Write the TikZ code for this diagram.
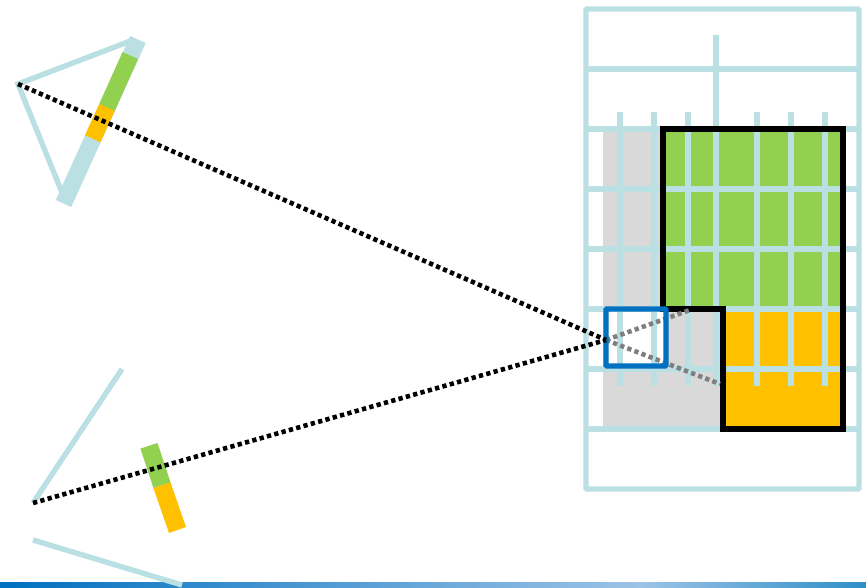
\documentclass[tikz,border=0pt]{standalone}
\usetikzlibrary{positioning}
\definecolor{gridBlue}{RGB}{187,224,227}
\definecolor{hitGreen}{RGB}{146,208,80}
\definecolor{hitOrange}{RGB}{255,192,0}
\definecolor{viewGray}{RGB}{217,217,217}
\definecolor{boxBlue}{RGB}{0,112,192}
\definecolor{barLight}{RGB}{157,195,230}
\definecolor{barEnd}{RGB}{46,143,200}
\definecolor{rayGray}{RGB}{127,127,127}

\begin{document}
\begin{tikzpicture}[
  x=1pt,
  y=-1pt,
  gridline/.style={
    draw=gridBlue,
    line width=5.4pt,
  },
  sensor/.style={
    line width=#1,
  },
  ray/.style={
    line width=4.6pt,
    dash pattern=on 4.3pt off 3.3pt,
  },
]
  \useasboundingbox (0,0) rectangle (866,588);

  % bar along the bottom
  \shade[left color=boxBlue, right color=barLight, draw=none]
    (0,582.5) rectangle (640,588);
  \shade[left color=barLight, right color=barEnd, draw=none]
    (640,582.5) rectangle (866,588);

  % cameras
  \coordinate (camA) at (18,84);
  \coordinate (camB) at (33,503);
  \coordinate (pix) at (606,340);

  \draw[gridline] (63,195) -- (camA) -- (133,40);
  \draw[gridline] (122,369) -- (camB);
  \draw[gridline] (33,540) -- (182,585);

  \draw[gridBlue, sensor=17pt] (138,39.5) -- (63.5,203.5);
  \draw[hitGreen, sensor=17pt] (130.3,55.5) -- (107,107.5);
  \draw[hitOrange, sensor=17pt] (107,107.5) -- (92.7,138.7);

  \draw[hitGreen, sensor=18pt] (149,445.8) -- (162,485.3);
  \draw[hitOrange, sensor=18pt] (162,485.3) -- (177.5,530);

  % image plane
  \fill[viewGray] (603,129) rectangle (663,429);
  \fill[viewGray] (663,309) rectangle (723,429);
  \fill[hitGreen] (663,129) rectangle (843,309);
  \fill[hitOrange] (723,309) rectangle (843,429);
  \fill[white] (606,309) rectangle (666,366);

  \foreach \gy in {69,129,...,429}
    \draw[gridline] (586,\gy) -- (859,\gy);
  \foreach \gx in {620,654,688,716,757,791,825}
    \draw[gridline] (\gx,112) -- (\gx,386);
  \draw[gridline] (716,35) -- (716,112);
  \draw[gridline, rounded corners=1pt] (586,9) rectangle (859,489);

  \draw[line width=5.4pt, line join=miter]
    (663,129) -- (843,129) -- (843,429) -- (723,429)
    -- (723,309) -- (663,309) -- cycle;

  % rays
  \draw[ray, rayGray] (pix) -- (720,384);
  \draw[ray, rayGray] (pix) -- (690,310);
  \draw[boxBlue, line width=5.4pt, rounded corners=1pt] (606,309) rectangle (666,366);
  \draw[ray] (camA) -- (pix);
  \draw[ray] (camB) -- (pix);

\end{tikzpicture}
\end{document}
